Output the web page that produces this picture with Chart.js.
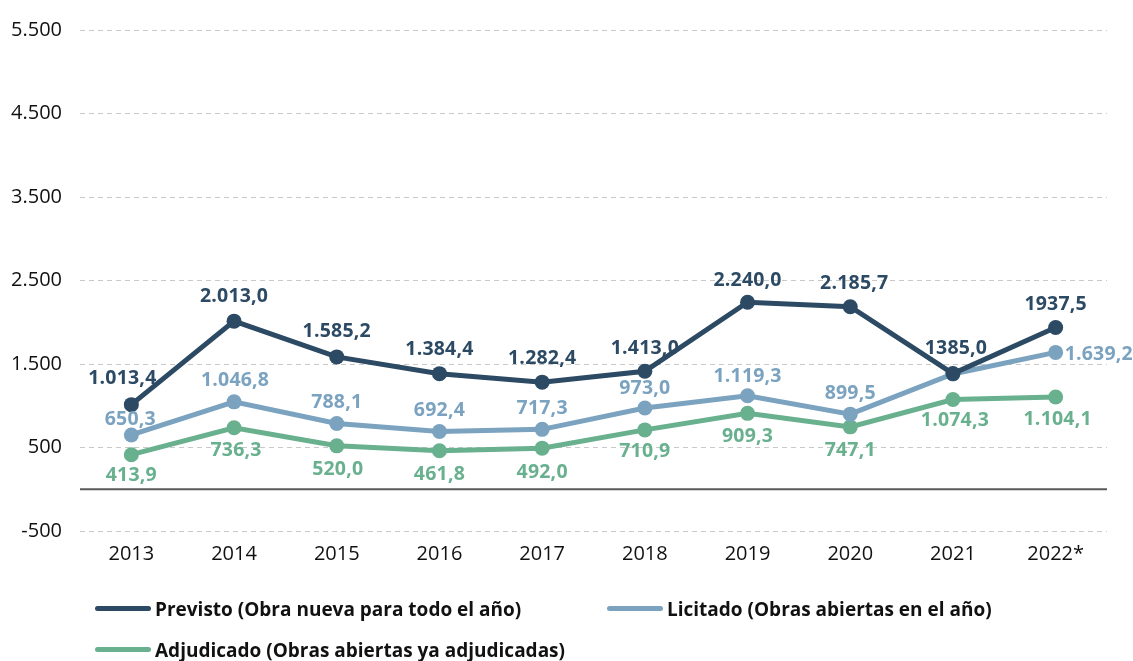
<!DOCTYPE html>
<html>
<head>
<meta charset="utf-8">
<script src="https://cdn.jsdelivr.net/npm/chart.js@4/dist/chart.umd.min.js"></script>
<style>
  html, body { margin: 0; padding: 0; background: #fff; }
  #wrap { position: relative; width: 1133px; height: 661px; }
  canvas { position: absolute; left: 0; top: 0; }
  .leg { position: absolute; font-family: "Open Sans", sans-serif; font-weight: 700; font-size: 19px; color: #111; white-space: nowrap; line-height: 22px; }
  .leg .mk { display: inline-block; width: 56px; height: 5px; border-radius: 3px; vertical-align: middle; margin-right: 4px; position: relative; top: -2px; }
</style>
</head>
<body>
<div id="wrap">
  <canvas id="c" width="1133" height="661"></canvas>
  <div class="leg" style="left:95px; top:598px;"><span class="mk" style="background:#2c4a63"></span>Previsto (Obra nueva para todo el año)</div>
  <div class="leg" style="left:607px; top:598px;"><span class="mk" style="background:#7ba3c0"></span>Licitado (Obras abiertas en el año)</div>
  <div class="leg" style="left:95px; top:639px;"><span class="mk" style="background:#69b08f"></span>Adjudicado (Obras abiertas ya adjudicadas)</div>
</div>
<script>
const categories = ['2013', '2014', '2015', '2016', '2017', '2018', '2019', '2020', '2021', '2022*'];
const previsto = [1013.4, 2013.0, 1585.2, 1384.4, 1282.4, 1413.0, 2240.0, 2185.7, 1385.0, 1937.5];
const licitado = [650.3, 1046.8, 788.1, 692.4, 717.3, 973.0, 1119.3, 899.5, 1380.0, 1639.2];
const adjudicado = [413.9, 736.3, 520.0, 461.8, 492.0, 710.9, 909.3, 747.1, 1074.3, 1104.1];
const previstoLabels = ['1.013,4', '2.013,0', '1.585,2', '1.384,4', '1.282,4', '1.413,0', '2.240,0', '2.185,7', '1385,0', '1937,5'];
const licitadoLabels = ['650,3', '1.046,8', '788,1', '692,4', '717,3', '973,0', '1.119,3', '899,5', '', '1.639,2'];
const adjudicadoLabels = ['413,9', '736,3', '520,0', '461,8', '492,0', '710,9', '909,3', '747,1', '1.074,3', '1.104,1'];
const yTicks = [-500, 500, 1500, 2500, 3500, 4500, 5500];
const yTickLabels = ['-500', '500', '1.500', '2.500', '3.500', '4.500', '5.500'];

const C_DARK = '#2c4a63', C_LIGHT = '#7ba3c0', C_GREEN = '#69b08f';

// label placement offsets (styling): [dx, dy, align]
const offsDark = [[-9,-26,'center'],[0,-25,'center'],[0,-25,'center'],[0,-24,'center'],[0,-24,'center'],[0,-23,'center'],[0,-22,'center'],[4,-23,'center'],[3,-25,'center'],[0,-23,'center']];
const offsLight = [[-1,-16,'center'],[1,-21,'center'],[0,-21,'center'],[0,-21,'center'],[0,-21,'center'],[0,-20,'center'],[0,-19,'center'],[0,-21,'center'],[0,0,'center'],[9,2,'left']];
const offsGreen = [[0,21,'center'],[2,23,'center'],[1,24,'center'],[0,24,'center'],[0,24,'center'],[0,22,'center'],[0,23,'center'],[0,24,'center'],[2,21,'center'],[2,22,'center']];

const labelSets = [
  { texts: previstoLabels, offs: offsDark, color: C_DARK },
  { texts: licitadoLabels, offs: offsLight, color: C_LIGHT },
  { texts: adjudicadoLabels, offs: offsGreen, color: C_GREEN }
];

const zeroLine = {
  id: 'zeroLine',
  beforeDatasetsDraw(chart) {
    const { ctx, chartArea, scales } = chart;
    const y = scales.y.getPixelForValue(0);
    ctx.save();
    ctx.strokeStyle = '#5a5a5a';
    ctx.lineWidth = 2;
    ctx.beginPath();
    ctx.moveTo(chartArea.left, y);
    ctx.lineTo(chartArea.right, y);
    ctx.stroke();
    ctx.restore();
  }
};

const valueLabels = {
  id: 'valueLabels',
  afterDatasetsDraw(chart) {
    const ctx = chart.ctx;
    ctx.save();
    ctx.font = '700 19.5px "Open Sans", sans-serif';
    try { ctx.letterSpacing = '0.2px'; } catch (e) {}
    ctx.textBaseline = 'middle';
    labelSets.forEach((set, di) => {
      const meta = chart.getDatasetMeta(di);
      meta.data.forEach((pt, i) => {
        const t = set.texts[i];
        if (!t) return;
        const o = set.offs[i];
        ctx.fillStyle = set.color;
        ctx.textAlign = o[2];
        ctx.fillText(t, pt.x + o[0], pt.y + o[1]);
      });
    });
    ctx.restore();
  }
};

function ds(label, data, color) {
  return {
    label, data,
    borderColor: color, backgroundColor: color,
    pointBackgroundColor: color, pointBorderColor: color,
    borderWidth: 5, pointRadius: 7.5, pointBorderWidth: 0, pointHoverRadius: 7.5,
    tension: 0, fill: false
  };
}

new Chart(document.getElementById('c'), {
  type: 'line',
  data: {
    labels: categories,
    datasets: [
      ds('Previsto (Obra nueva para todo el año)', previsto, C_DARK),
      ds('Licitado (Obras abiertas en el año)', licitado, C_LIGHT),
      ds('Adjudicado (Obras abiertas ya adjudicadas)', adjudicado, C_GREEN)
    ]
  },
  options: {
    responsive: false,
    animation: false,
    layout: { padding: { top: 27, right: 26, bottom: 85, left: 0 } },
    plugins: { legend: { display: false }, tooltip: { enabled: false } },
    scales: {
      x: {
        offset: true,
        grid: { display: false, drawTicks: false },
        border: { display: false },
        ticks: { color: '#111', font: { family: 'Open Sans', size: 20 }, padding: 11, maxRotation: 0 },
        afterFit(s) { s.height = 45; }
      },
      y: {
        min: -500, max: 5500,
        afterBuildTicks(s) { s.ticks = yTicks.map(v => ({ value: v })); },
        grid: { color: '#c9c9c9', lineWidth: 1, drawTicks: false },
        border: { display: false, dash: [5, 4] },
        ticks: {
          color: '#111', font: { family: 'Open Sans', size: 20 }, padding: 18,
          callback(v) { const i = yTicks.indexOf(v); return i >= 0 ? yTickLabels[i] : ''; }
        },
        afterFit(s) { s.width = 80; }
      }
    }
  },
  plugins: [zeroLine, valueLabels]
});
</script>
</body>
</html>
